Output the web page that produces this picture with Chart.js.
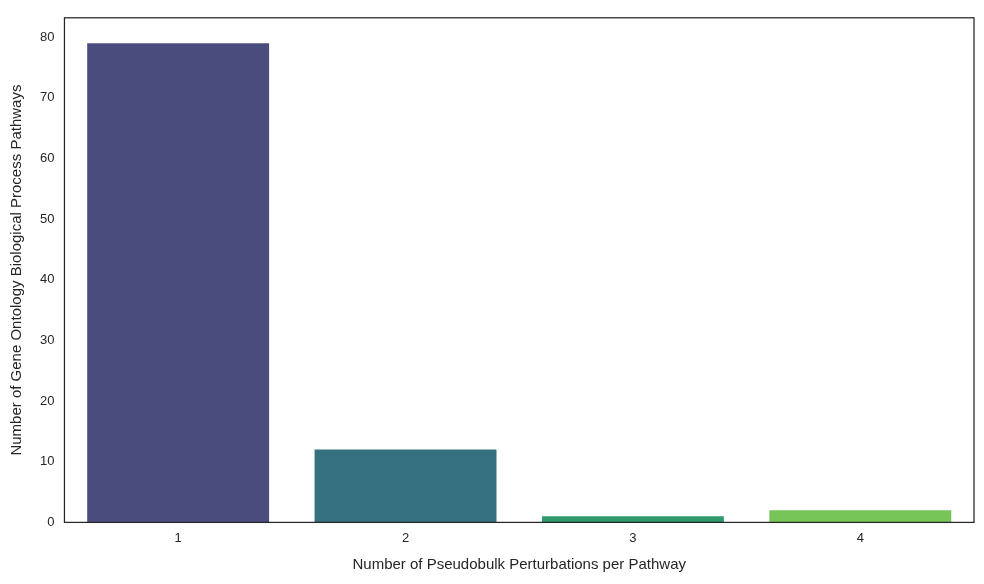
<!DOCTYPE html>
<html><head><meta charset="utf-8">
<script src="https://cdn.jsdelivr.net/npm/chart.js@4/dist/chart.umd.min.js"></script>
<style>html,body{margin:0;background:#fff}#wrap{width:984px;height:584px}</style>
</head><body><div id="wrap"><canvas id="c"></canvas></div>
<script>
const categories=["1","2","3","4"]
const counts=[79,12,1,2]
const barColors=["#4a4c7e","#36717f","#2f9a6b","#77c559"]

const border={id:"border",afterDraw(ch){
const a=ch.chartArea,x=ch.ctx
x.save();x.strokeStyle="#262626";x.lineWidth=1.25
x.strokeRect(a.left,a.top,a.right-a.left,a.bottom-a.top);x.restore()}}

new Chart(document.getElementById("c"),{
type:"bar",
data:{labels:categories,datasets:[{data:counts,backgroundColor:barColors,borderWidth:0,categoryPercentage:0.8,barPercentage:1}]},
options:{responsive:true,maintainAspectRatio:false,animation:false,
layout:{padding:{top:9,right:10,left:4,bottom:6}},
plugins:{legend:{display:false},tooltip:{enabled:false}},
scales:{
x:{grid:{display:false,drawTicks:false},border:{display:false},
ticks:{color:"#262626",font:{family:"Liberation Sans",size:13},padding:8},
title:{display:true,text:"Number of Pseudobulk Perturbations per Pathway",color:"#262626",font:{family:"Liberation Sans",size:15},padding:{top:2}}},
y:{min:0,max:83.2,afterBuildTicks(s){s.ticks=[0,10,20,30,40,50,60,70,80].map(v=>({value:v}))},
grid:{display:false,drawTicks:false},border:{display:false},
ticks:{color:"#262626",font:{family:"Liberation Sans",size:13},padding:10},
title:{display:true,text:"Number of Gene Ontology Biological Process Pathways",color:"#262626",font:{family:"Liberation Sans",size:15},padding:{bottom:4}}}
}},
plugins:[border]})
</script></body></html>
